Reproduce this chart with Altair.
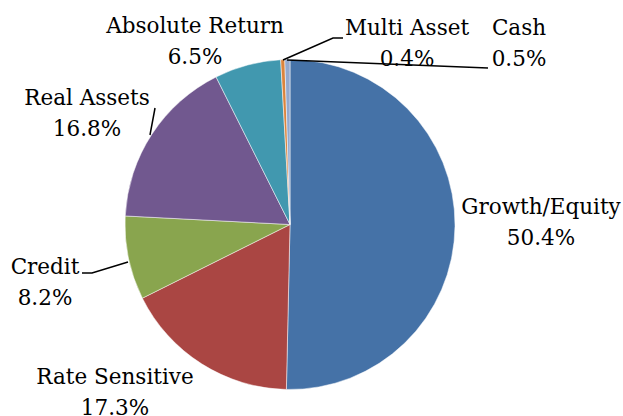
import altair as alt
import pandas as pd

# --- data ---
categories = ["Growth/Equity", "Rate Sensitive", "Credit", "Real Assets",
              "Absolute Return", "Multi Asset", "Cash"]
values = [50.4, 17.3, 8.2, 16.8, 6.5, 0.4, 0.5]
colors = ["#4572A7", "#AA4643", "#89A54E", "#71588F", "#4198AF", "#DB843D", "#93A9CF"]

# --- layout (label placement, in pixels; first-line centre) ---
label_x = [541, 115, 45, 87, 195, 407, 519]
label_y = [208, 378, 268, 99, 27, 29, 29]

leader_cat = ["Multi Asset", "Multi Asset", "Multi Asset", "Cash", "Cash",
              "Credit", "Credit", "Credit", "Real Assets", "Real Assets"]
leader_x = [283, 333, 343, 287, 488, 128, 92, 82, 150, 155]
leader_y = [60, 38, 38, 60, 68, 262, 273, 273, 135, 108]
leader_i = [0, 1, 2, 0, 1, 0, 1, 2, 0, 1]

CX, CY, R = 290, 224.5, 165

pie_df = pd.DataFrame({"category": categories, "value": values,
                       "idx": list(range(len(categories)))})
lab_df = pd.DataFrame({"label": [f"{c}\n{v}%" for c, v in zip(categories, values)],
                       "lx": label_x, "ly": label_y})
lead_df = pd.DataFrame({"seg": leader_cat, "px": leader_x, "py": leader_y, "i": leader_i})

pie = alt.Chart(pie_df).mark_arc(
    outerRadius=R, x=CX, y=CY, stroke="white", strokeWidth=0.5
).encode(
    theta=alt.Theta("value:Q", stack=True),
    color=alt.Color("category:N", scale=alt.Scale(domain=categories, range=colors), legend=None),
    order=alt.Order("idx:Q"),
)

labels = alt.Chart(lab_df).mark_text(
    font="DejaVu Serif", fontSize=21.5, color="black",
    lineBreak="\n", lineHeight=31, align="center", baseline="middle"
).encode(
    x=alt.X("lx:Q", scale=None, axis=None),
    y=alt.Y("ly:Q", scale=None, axis=None),
    text="label:N",
)

leaders = alt.Chart(lead_df).mark_line(color="black", strokeWidth=1.5).encode(
    x=alt.X("px:Q", scale=None, axis=None),
    y=alt.Y("py:Q", scale=None, axis=None),
    detail="seg:N",
    order="i:Q",
)

chart = alt.layer(pie, leaders, labels).properties(
    width=623, height=416, autosize=alt.AutoSizeParams(type="none"), padding=0
).configure_view(stroke=None)

chart.save("out.html", embed_options={"renderer": "svg", "actions": False})
